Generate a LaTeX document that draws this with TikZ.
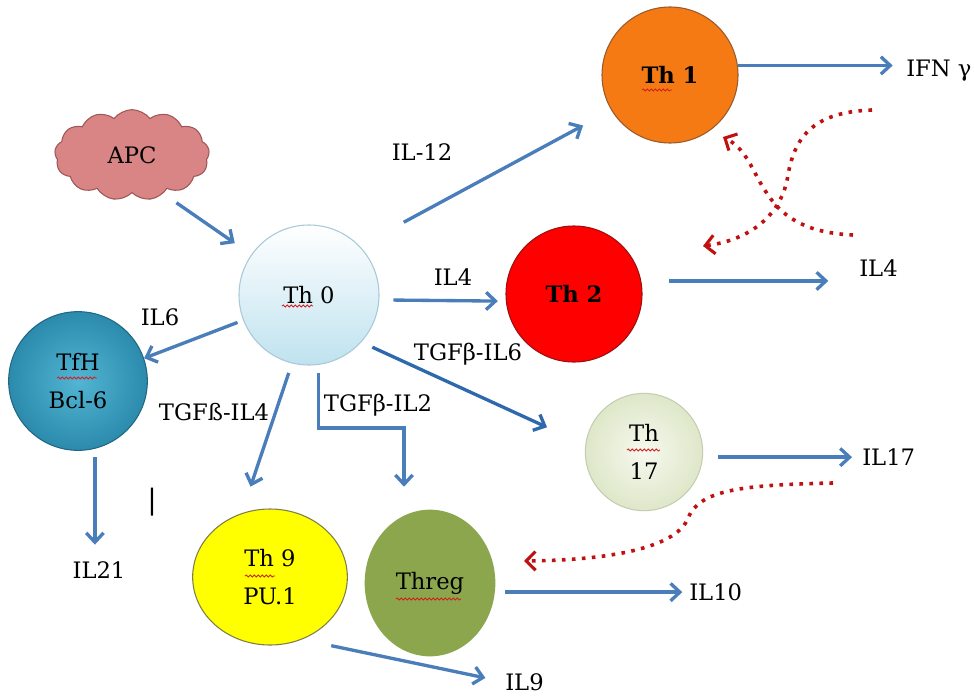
\documentclass[tikz,border=0pt]{standalone}
\usepackage{fontspec}
\setmainfont{DejaVu Serif}
\usetikzlibrary{arrows.meta,shapes.geometric,shapes.symbols,decorations.pathmorphing}
\definecolor{arrblue}{HTML}{4A7EBB}
\definecolor{arrblueD}{HTML}{2F69AD}
\definecolor{dotred}{HTML}{C01010}
\definecolor{thonec}{HTML}{F57A14}
\definecolor{thoned}{HTML}{9A5A2A}
\definecolor{thtwoc}{HTML}{FF0000}
\definecolor{thtwod}{HTML}{9A1010}
\definecolor{thzerob}{HTML}{BFE2EF}
\definecolor{thzerod}{HTML}{A9C9D8}
\definecolor{tfhin}{HTML}{52B5D3}
\definecolor{tfhout}{HTML}{2C8BAD}
\definecolor{tfhd}{HTML}{1F6783}
\definecolor{thsevin}{HTML}{F6F9EE}
\definecolor{thsevout}{HTML}{DEE7C9}
\definecolor{thsevd}{HTML}{C4CEB0}
\definecolor{thninec}{HTML}{FFFF00}
\definecolor{thnined}{HTML}{7E7E4A}
\definecolor{thregc}{HTML}{8CA64E}
\definecolor{apcc}{HTML}{D98585}
\definecolor{apcd}{HTML}{9E5656}
\definecolor{wavec}{HTML}{D02020}
\newcommand\ff{\fontsize{17}{29}\selectfont}
\begin{document}
\begin{tikzpicture}[x=0.75pt,y=-0.75pt,
  every node/.style={font=\ff, text=black},
  arr/.style={draw=arrblue, line width=2.5pt, -{Straight Barb[length=7pt,width=13pt]}},
  dots/.style={draw=dotred, line width=2.7pt, dash pattern=on 2.7pt off 4.8pt,
    -{Straight Barb[length=7pt,width=14pt,line width=2.3pt]}},
  cell/.style={ellipse, inner sep=0pt, align=center},
  lbl/.style={inner sep=0pt},
  wave/.style={draw=wavec, line width=0.6pt, decorate,
    decoration={snake, amplitude=0.8pt, segment length=3pt}}]
\fill[white] (0,0) rectangle (974,696);
\useasboundingbox (0,0) rectangle (974,696);

% cells
\node[cloud, cloud puffs=13, cloud puff arc=105, aspect=1.7, fill=apcc, draw=apcd,
      line width=0.8pt, minimum width=116pt, minimum height=68pt, inner sep=0pt] (apc) at (132,155) {APC};
\node[cell, minimum width=105pt, minimum height=105pt, top color=white, bottom color=thzerob,
      draw=thzerod, line width=0.8pt] (th0) at (309,295) {Th 0};
\node[cell, minimum width=102pt, minimum height=102pt, fill=thonec, draw=thoned,
      line width=0.8pt, font=\ff\bfseries, text depth=-6pt] (th1) at (670,75) {Th 1};
\node[cell, minimum width=102pt, minimum height=102pt, fill=thtwoc, draw=thtwod,
      line width=0.8pt, font=\ff\bfseries] (th2) at (574,294) {Th 2};
\node[cell, minimum width=104pt, minimum height=104pt, inner color=tfhin, outer color=tfhout,
      draw=tfhd, line width=0.8pt] (tfh) at (78,381) {TfH\\Bcl-6};
\node[cell, minimum width=88pt, minimum height=88pt, inner color=thsevin, outer color=thsevout,
      draw=thsevd, line width=0.8pt] (th17) at (644,452) {Th\\17};
\node[cell, minimum width=116pt, minimum height=102pt, fill=thninec, draw=thnined,
      line width=0.8pt] (th9) at (270,577) {Th 9\\PU.1};
\node[cell, minimum width=98pt, minimum height=110pt, fill=thregc] (threg) at (430,583) {Threg};

% labels
\node[lbl] (il12) at (422,152) {IL-12};
\node[lbl] (il4a) at (453,277) {IL4};
\node[lbl] (tgf6) at (468,354) {TGFβ-IL6};
\node[lbl] (il6) at (160,317) {IL6};
\node[lbl] (tgf4) at (214,412) {TGFß-IL4};
\node[lbl] (tgf2) at (378,405) {TGFβ-IL2};
\node[lbl, anchor=west] (ifng) at (906,71) {IFN γ};
\node[lbl, anchor=west] (il4b) at (859,268) {IL4};
\node[lbl, anchor=west] (il17) at (862,457) {IL17};
\node[lbl] (il21) at (99,570) {IL21};
\node[lbl, anchor=west] (il10) at (689,592) {IL10};
\node[lbl, anchor=west] (il9) at (505,682) {IL9};
\node[lbl, font=\fontsize{21}{25}\selectfont] (bar) at (152,502) {|};

% blue connectors
\draw[arr, shorten <=12pt, shorten >=15pt] (apc.-51) -- (th0.145);
\draw[arr, shorten <=37.5pt, shorten >=24pt] (th0.44.6) -- (th1.-149.4);
\draw[arr, shorten <=10.5pt, shorten >=6pt] (th0.-4.1) -- (th2.-174.9);
\draw[arr, shorten <=4.5pt] (th0.-159.2) -- (tfh.19.5);
\draw[arr, shorten <=7.5pt, shorten >=21pt] (th0.-104.9) -- (th9.114.4);
\coordinate (tb) at (404,428);
\draw[arr, shorten <=6pt, shorten >=17pt] (th0.-82.6) |- (tb) -- (tb |- threg.north);
\draw[arr, draw=arrblueD, shorten <=9pt, shorten >=31.5pt] (th0.-42) -- (th17.173.7);
\draw[arr, shorten <=6pt, shorten >=12.5pt] (tfh.-76.7) -- (tfh.-76.7 |- il21.north);
\draw[arr, shorten >=10pt] (th1.8.45) -- (th1.8.45 -| ifng.west);
\draw[arr, shorten <=20.6pt, shorten >=23pt] (th2.11.9) -- (th2.11.9 -| il4b.west);
\draw[arr, shorten <=11pt, shorten >=7.5pt] (th17.-5.9) -- (th17.-5.9 -| il17.west);
\draw[arr, shorten <=7.5pt, shorten >=5pt] (threg.-8.76) -- (threg.-8.76 -| il10.west);
\draw[arr, shorten <=22.5pt, shorten >=15pt] (th9.-63.5) -- (il9.west);

% red dotted feedback arrows
\coordinate (ra) at (872,110);
\coordinate (rb) at (853,235);
\coordinate (rc) at (833,483);
\coordinate (ta) at (703,246);
\coordinate (tbb) at (723,137);
\coordinate (tc) at (524,561);
\draw[dots] (ra) .. controls (815,112) and (795,135) .. (788,175)
  .. controls (782,215) and (750,240) .. (ta);
\draw[dots] (rb) .. controls (810,233) and (785,220) .. (768,195)
  .. controls (752,172) and (748,150) .. (tbb);
\draw[dots] (rc) .. controls (740,485) and (700,490) .. (688,518)
  .. controls (678,545) and (620,560) .. (tc);

% spell-check underlines
\draw[wave] ([shift={(-27,11)}]th0.center) -- ++(31,0);
\draw[wave] ([shift={(-28,15)}]th1.center) -- ++(30,0);
\draw[wave] ([shift={(-21,-3)}]tfh.center) -- ++(40,0);
\draw[wave] ([shift={(-17,-2)}]th17.center) -- ++(33,0);
\draw[wave] ([shift={(-25,-1)}]th9.center) -- ++(30,0);
\draw[wave] ([shift={(-34,16)}]threg.center) -- ++(65,0);
\end{tikzpicture}
\end{document}
